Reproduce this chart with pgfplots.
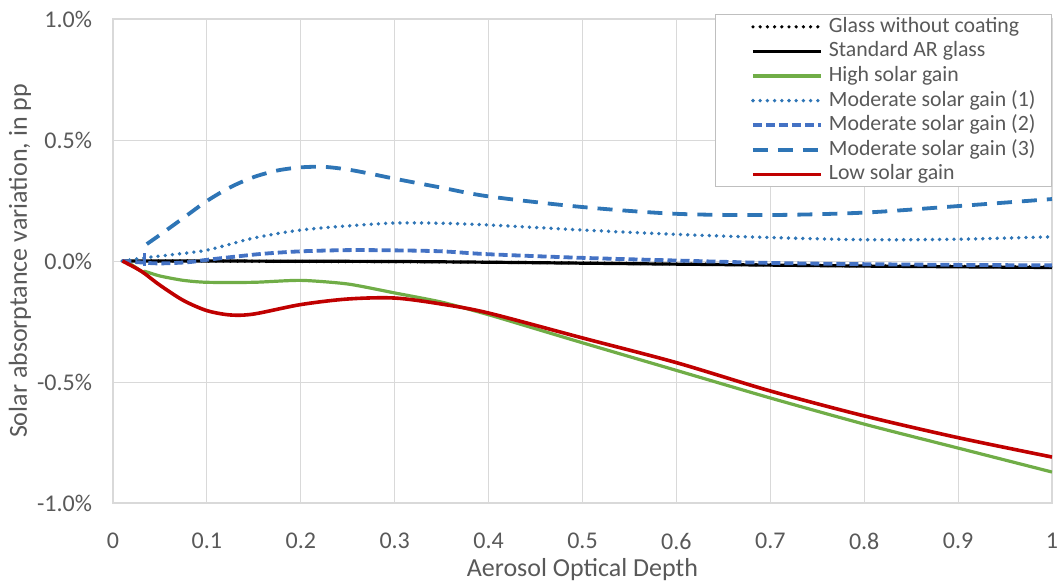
\documentclass[border=0pt]{standalone}
\usepackage{pgfplots}
\pgfplotsset{compat=1.18}
\usepackage{fontspec}
\setmainfont{Carlito}
\definecolor{txt}{HTML}{595959}
\definecolor{gridc}{HTML}{D9D9D9}
\definecolor{legb}{HTML}{BFBFBF}
\definecolor{bluea}{HTML}{2E75B6}
\definecolor{blueb}{HTML}{4472C4}
\definecolor{greenc}{HTML}{70AD47}
\definecolor{redc}{HTML}{C00000}
\begin{document}
\begin{tikzpicture}
\path[use as bounding box] (-56.5pt,-41.5pt) rectangle (474.5pt,251.5pt);
\begin{axis}[
  scale only axis=true,
  width=469.5pt, height=242pt,
  xmin=0, xmax=1, ymin=-1, ymax=1,
  xtick={0,0.1,0.2,0.3,0.4,0.5,0.6,0.7,0.8,0.9,1},
  xticklabels={0,0.1,0.2,0.3,0.4,0.5,0.6,0.7,0.8,0.9,1},
  ytick={-1,-0.5,0,0.5,1},
  yticklabels={-1.0\%,-0.5\%,0.0\%,0.5\%,1.0\%},
  /pgf/number format/assume math mode=true,
  major tick length=0pt,
  grid=major,
  major grid style={draw=gridc, line width=0.5pt},
  axis line style={draw=gridc, line width=0.6pt},
  tick label style={font=\fontsize{12}{14}\selectfont, text=txt},
  xticklabel style={anchor=center, yshift=-19pt},
  yticklabel style={anchor=east, xshift=-7pt},
  xlabel={Aerosol Optical Depth},
  ylabel={Solar absorptance variation, in pp},
  label style={font=\fontsize{13}{15}\selectfont, text=txt},
  xlabel style={at={(axis description cs:0.5,-0.138)}, anchor=center},
  ylabel style={at={(axis description cs:-0.099,0.5)}, anchor=center},
  legend cell align=left,
  legend style={at={(axis description cs:1,1.0103)}, anchor=north east,
    draw=legb, line width=0.5pt, fill=white, inner xsep=7pt, inner ysep=0pt,
    row sep=0pt,
    font=\fontsize{10.9}{12.3}\selectfont, text=txt,
    nodes={inner sep=1pt, text height=7.9pt, text depth=2.4pt}},
  legend image code/.code={\path (0pt,0pt) (47pt,0pt); \draw[#1] (11pt,0pt) -- (45pt,0pt);},
]
% Glass without coating
\addplot[black, line width=1.8pt, line cap=round, dash pattern=on 0pt off 3.6pt, smooth] coordinates {
(0.01,0) (0.1,0) (0.2,-0.002) (0.3,-0.003) (0.4,-0.005) (0.5,-0.008) (0.6,-0.012) (0.7,-0.016) (0.8,-0.02) (0.9,-0.022) (1.0,-0.025)};
\addlegendentry{Glass without coating}
% Standard AR glass
\addplot[black, line width=1.6pt, smooth] coordinates {
(0.01,0) (0.1,0) (0.2,-0.001) (0.3,-0.002) (0.4,-0.005) (0.5,-0.009) (0.6,-0.013) (0.7,-0.017) (0.8,-0.021) (0.9,-0.024) (1.0,-0.027)};
\addlegendentry{Standard AR glass}
% High solar gain
\addplot[greenc, line width=1.6pt, smooth, tension=0.4] coordinates {
(0.01,0) (0.02,-0.016) (0.032,-0.047) (0.034,-0.043) (0.05,-0.062) (0.075,-0.08) (0.1,-0.088) (0.15,-0.088) (0.2,-0.08) (0.25,-0.095) (0.3,-0.132) (0.35,-0.17) (0.4,-0.222) (0.45,-0.28) (0.5,-0.338) (0.6,-0.452) (0.7,-0.566) (0.8,-0.674) (0.9,-0.773) (1.0,-0.872)};
\addlegendentry{High solar gain}
% Moderate (1)
\addplot[bluea, line width=1.9pt, line cap=round, dash pattern=on 0pt off 3.6pt, smooth] coordinates {
(0.01,0) (0.035,0.014) (0.06,0.025) (0.1,0.045) (0.15,0.095) (0.2,0.128) (0.25,0.145) (0.3,0.157) (0.35,0.156) (0.4,0.149) (0.5,0.128) (0.6,0.11) (0.7,0.097) (0.8,0.088) (0.9,0.09) (1.0,0.1)};
\addlegendentry{Moderate solar gain (1)}
% Moderate (2)
\addplot[blueb, line width=1.9pt, dash pattern=on 4.5pt off 2pt, smooth, tension=0.5] coordinates {
(0.01,0) (0.03,-0.006) (0.05,-0.01) (0.08,-0.005) (0.1,0.005) (0.13,0.018) (0.16,0.03) (0.2,0.04) (0.25,0.045) (0.3,0.044) (0.35,0.04) (0.4,0.028) (0.5,0.013) (0.6,0.002) (0.7,-0.008) (0.8,-0.013) (0.9,-0.016) (1.0,-0.018)};
\addlegendentry{Moderate solar gain (2)}
% Moderate (3)
\addplot[bluea, line width=1.9pt, dash pattern=on 7.5pt off 5pt, smooth, tension=0.5] coordinates {
(0.036,0.07) (0.05,0.108) (0.075,0.178) (0.1,0.248) (0.125,0.305) (0.15,0.347) (0.175,0.374) (0.2,0.387) (0.225,0.389) (0.25,0.378) (0.275,0.36) (0.3,0.34) (0.35,0.303) (0.4,0.267) (0.5,0.223) (0.6,0.195) (0.7,0.19) (0.8,0.2) (0.9,0.227) (1.0,0.256)};
\addlegendentry{Moderate solar gain (3)}
% Low solar gain
\addplot[redc, line width=1.8pt, smooth, tension=0.5] coordinates {
(0.01,0) (0.03,-0.042) (0.05,-0.1) (0.075,-0.163) (0.1,-0.205) (0.125,-0.223) (0.15,-0.219) (0.2,-0.18) (0.25,-0.157) (0.3,-0.153) (0.35,-0.178) (0.4,-0.215) (0.5,-0.318) (0.6,-0.42) (0.7,-0.537) (0.8,-0.64) (0.9,-0.73) (1.0,-0.81)};
\addlegendentry{Low solar gain}
% spike artefact of Moderate (2)
\addplot[blueb, line width=1.4pt, forget plot] coordinates {(0.0335,-0.02) (0.0335,0.035)};
\end{axis}
\end{tikzpicture}
\end{document}
